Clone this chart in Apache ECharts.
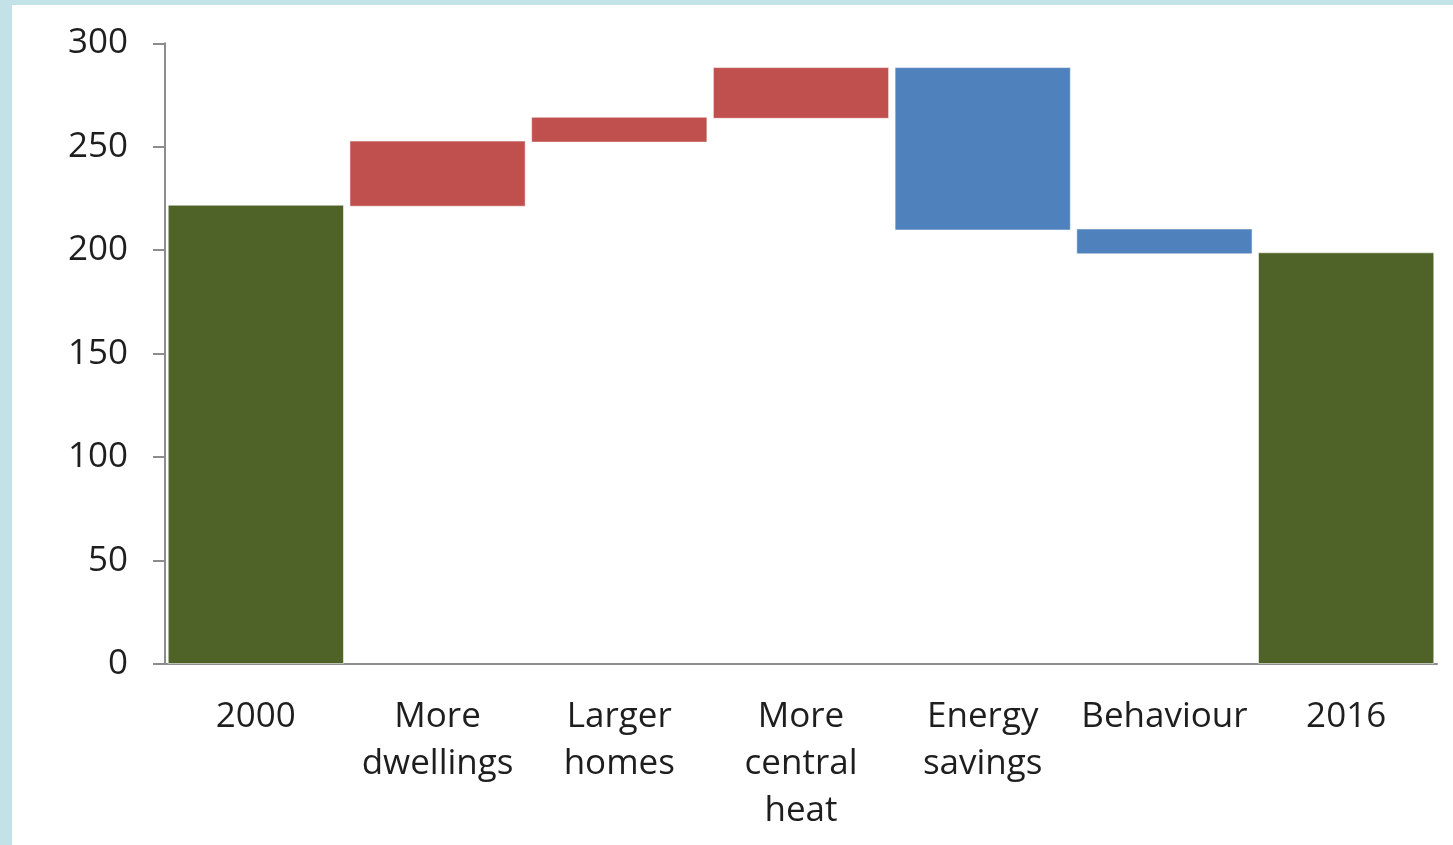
<!DOCTYPE html>
<html>
<head>
<meta charset="utf-8">
<script src="https://cdn.jsdelivr.net/npm/echarts@6/dist/echarts.min.js"></script>
<style>
  html, body { margin: 0; padding: 0; width: 1453px; height: 845px; background: #c2e2e7; overflow: hidden; }
  #chart { position: absolute; left: 12px; top: 5px; width: 1441px; height: 840px; background: #ffffff; }
</style>
</head>
<body>
<div id="chart"></div>
<script>
// Waterfall data
const categories = ['2000', 'More\ndwellings', 'Larger\nhomes', 'More\ncentral\nheat', 'Energy\nsavings', 'Behaviour', '2016'];
const barBottoms = [0, 221, 252, 263.5, 209.5, 198, 0];
const barTops    = [222, 253, 264.5, 288.5, 288.5, 210.5, 199];
const barKinds   = ['total', 'increase', 'increase', 'increase', 'decrease', 'decrease', 'total'];
const yTicks = { min: 0, max: 300, interval: 50 };

const kindColors = { total: '#4f6228', increase: '#c0504d', decrease: '#4f81bd' };

const chart = echarts.init(document.getElementById('chart'));
const textColor = '#1e1e1e';
const font = 'Open Sans';

chart.setOption({
  animation: false,
  grid: { left: 153, right: 16, top: 38.3, bottom: 181, containLabel: false },
  xAxis: {
    type: 'category',
    data: categories,
    axisLine: { show: true, lineStyle: { color: '#8c8c8c', width: 2 } },
    axisTick: { show: false },
    axisLabel: {
      interval: 0, margin: 30,
      color: textColor, fontFamily: font, fontSize: 35, lineHeight: 47
    }
  },
  yAxis: {
    type: 'value',
    min: yTicks.min, max: yTicks.max, interval: yTicks.interval,
    splitLine: { show: false },
    axisLine: { show: true, lineStyle: { color: '#8c8c8c', width: 2 } },
    axisTick: { show: true, inside: false, length: 12, lineStyle: { color: '#8c8c8c', width: 2 } },
    axisLabel: { margin: 37, color: textColor, fontFamily: font, fontSize: 35 }
  },
  series: [
    {
      type: 'bar', stack: 'wf', barCategoryGap: '3%',
      itemStyle: { color: 'transparent' },
      emphasis: { disabled: true },
      data: barBottoms
    },
    {
      type: 'bar', stack: 'wf', barCategoryGap: '3%',
      data: barTops.map((t, i) => ({
        value: +(t - barBottoms[i]).toFixed(2),
        itemStyle: { color: kindColors[barKinds[i]], borderColor: 'rgba(255,255,255,0.55)', borderWidth: 1 }
      }))
    }
  ]
});
</script>
</body>
</html>
